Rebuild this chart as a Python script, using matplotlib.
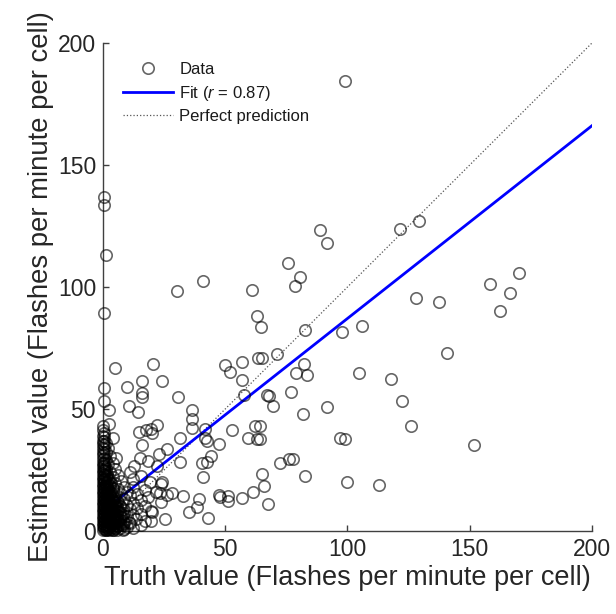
import numpy as np
import matplotlib
matplotlib.use("Agg")
import matplotlib.pyplot as plt

plt.rcParams['font.family'] = ['Liberation Sans', 'DejaVu Sans']
plt.rcParams['mathtext.fontset'] = 'custom'
plt.rcParams['mathtext.rm'] = 'Liberation Sans'
plt.rcParams['mathtext.it'] = 'Liberation Sans:italic'

# scattered cells (truth, estimate)
far_points = [
    (0.5, 136.7), (0.5, 133.6), (1.1, 113.3), (0.4, 89.4),
    (99.0, 184.3),
    (30.2, 98.3), (40.7, 102.4), (60.8, 98.8), (62.9, 88.2), (64.6, 83.6),
    (88.6, 123.5), (91.7, 117.9), (121.4, 123.8), (129.1, 126.9),
    (75.5, 109.9), (80.4, 103.9), (78.5, 100.2),
    (170.2, 105.9), (158.1, 101.3), (166.4, 97.5), (162.3, 90.1),
    (127.9, 95.4), (137.3, 93.7),
    (82.5, 82.5), (97.7, 81.5), (105.8, 84.0), (140.5, 72.8), (71.3, 72.5),
    (64.9, 70.8), (63.3, 70.8),
    (82.2, 68.3), (79.1, 64.6), (83.6, 63.9), (104.9, 64.6), (118.0, 62.2),
    (67.2, 55.6), (67.8, 55.4), (77.0, 57.0), (69.4, 51.1), (91.7, 50.7),
    (122.2, 53.2), (81.7, 47.9), (126.0, 43.2), (64.2, 43.1), (64.2, 37.6),
    (96.9, 38.2), (99.1, 37.5), (151.7, 35.3),
    (72.4, 27.9), (76.1, 29.3), (77.8, 29.4), (64.9, 23.3), (65.9, 18.5),
    (82.8, 22.5), (99.7, 19.9), (113.0, 18.8), (67.6, 11.0),
]

mid_points = [
    (4.9, 66.7), (20.6, 68.3), (50.0, 67.9), (56.8, 69.2), (52.0, 65.3),
    (0.5, 58.4), (0.5, 53.2), (10.0, 59.2), (16.1, 61.5), (24.0, 61.5),
    (16.1, 56.7), (16.1, 55.1), (30.6, 55.1),
    (56.8, 61.9), (57.7, 55.6), (10.7, 51.3), (14.3, 48.8), (2.6, 49.6),
    (36.4, 49.5), (36.4, 45.8), (36.4, 42.4),
    (22.2, 43.5), (19.5, 42.0), (17.5, 41.4), (14.8, 40.4), (20.2, 40.0),
    (31.4, 38.0), (15.9, 35.2), (26.0, 33.5),
    (42.5, 36.9), (47.3, 35.6), (41.9, 41.7), (41.9, 38.0), (52.7, 41.4),
    (62.2, 43.1), (59.5, 38.3), (63.1, 37.9),
    (44.3, 30.6), (40.5, 27.8), (42.5, 28.1), (31.7, 28.4), (22.9, 31.5),
    (18.4, 28.8), (15.2, 29.9), (40.9, 22.0),
    (61.5, 16.1), (51.3, 14.4), (56.8, 13.4), (47.3, 14.7), (48.0, 13.8),
    (39.1, 13.1), (38.5, 9.7), (35.1, 7.6), (42.8, 5.2),
    (32.8, 14.4), (28.3, 15.5), (26.0, 14.7), (23.6, 19.2), (23.3, 15.5),
    (25.2, 4.9), (19.5, 8.3), (20.2, 7.6), (19.5, 4.2), (17.1, 4.2),
    (18.4, 13.8), (19.2, 19.9), (12.7, 26.7), (11.1, 24.3), (12.1, 21.3),
    (15.4, 22.6), (23.6, 11.7),
    (2.6, 43.8), (3.9, 38.3), (5.3, 30.1), (22.2, 26.7), (24.3, 19.9),
    (21.8, 15.8), (51.3, 12.4), (10.7, 3.6), (13.4, 4.9),
]

# low flash-rate cells around the origin
near_origin = [
    (0.3, 40.2), (0.3, 38.5), (0.3, 37.0), (0.3, 35.1), (0.3, 33.4),
    (0.3, 31.8), (0.3, 30.0), (0.3, 28.3), (0.3, 26.5), (0.3, 24.9),
    (0.3, 23.0), (0.3, 21.2), (0.3, 19.6), (0.3, 17.8), (0.3, 16.0),
    (0.3, 14.1), (0.3, 12.5), (0.3, 10.8), (0.3, 9.0), (0.3, 7.4),
    (0.3, 5.6), (0.3, 3.9), (0.3, 2.2), (0.3, 0.8),
    (1.2, 36.2), (1.2, 32.5), (1.2, 29.1), (1.2, 25.7), (1.2, 22.4),
    (1.2, 19.0), (1.2, 15.3), (1.2, 12.0), (1.2, 8.6), (1.2, 5.1),
    (1.2, 1.7), (1.2, 0.3),
    (2.1, 34.0), (2.1, 27.3), (2.1, 20.8), (2.1, 17.2), (2.1, 13.6),
    (2.1, 10.2), (2.1, 6.9), (2.1, 3.5), (2.1, 0.9),
    (3.0, 30.6), (3.0, 24.1), (3.0, 18.5), (3.0, 14.9), (3.0, 11.1),
    (3.0, 7.8), (3.0, 4.4), (3.0, 1.5),
    (4.0, 27.9), (4.0, 22.0), (4.0, 16.4), (4.0, 12.9), (4.0, 9.5),
    (4.0, 6.0), (4.0, 2.8), (4.0, 0.5),
    (5.1, 25.2), (5.1, 19.8), (5.1, 14.2), (5.1, 10.6), (5.1, 7.1),
    (5.1, 3.6), (5.1, 1.2),
    (6.2, 22.8), (6.2, 17.1), (6.2, 12.0), (6.2, 8.3), (6.2, 4.7), (6.2, 1.9),
    (7.3, 20.5), (7.3, 15.0), (7.3, 9.9), (7.3, 5.9), (7.3, 2.6),
    (8.5, 18.2), (8.5, 13.1), (8.5, 7.5), (8.5, 3.1), (8.5, 0.7),
    (9.7, 16.0), (9.7, 10.8), (9.7, 6.2), (9.7, 1.8),
    (11.0, 14.6), (11.0, 8.9), (11.0, 3.3),
    (12.4, 17.9), (12.4, 11.4), (12.4, 6.5), (12.4, 1.4),
    (13.9, 9.6), (13.9, 15.3),
    (15.5, 12.6), (15.5, 7.0), (15.5, 2.4),
    (17.0, 10.1), (17.0, 16.8),
]

# the packed core: truth value of a column and the estimates in it
core_columns = [
    (0.0, [0.4, 1.9, 3.3, 4.8, 6.2, 7.7, 9.1, 10.6, 12.0, 13.5, 15.0, 16.4,
           17.9, 19.3, 20.8, 22.2, 23.7, 25.1, 26.6, 28.0, 29.5, 31.0, 32.4,
           34.1, 35.6, 36.9, 39.0, 41.3, 43.0]),
    (0.6, [1.1, 2.7, 4.1, 5.5, 7.0, 8.4, 9.9, 11.3, 12.8, 14.2, 15.7, 17.1,
           18.6, 20.0, 21.5, 23.0, 24.4, 26.0, 27.3]),
    (1.1, [0.2, 1.6, 3.0, 4.5, 5.9, 7.4, 8.8, 10.3, 11.7, 13.2, 14.6, 16.1,
           17.5, 19.1, 21.8, 24.5]),
    (1.7, [0.9, 2.4, 3.8, 5.2, 6.7, 8.1, 9.6, 11.0, 12.5, 13.9, 15.4, 16.8,
           18.3, 20.2, 23.1]),
    (2.4, [0.3, 1.7, 3.2, 4.6, 6.1, 7.5, 9.0, 10.4, 11.9, 13.3, 14.8, 16.3,
           18.9, 21.4]),
    (3.1, [1.0, 2.5, 3.9, 5.4, 6.8, 8.3, 9.7, 11.2, 12.6, 14.1, 16.0, 19.6]),
    (3.9, [0.4, 1.8, 3.3, 4.7, 6.2, 7.6, 9.1, 10.5, 12.2, 14.4, 17.5]),
    (4.8, [1.2, 2.6, 4.0, 5.5, 6.9, 8.4, 10.0, 11.8, 13.7]),
    (5.8, [0.5, 2.0, 3.4, 4.9, 6.5, 8.0, 9.8, 12.3]),
    (6.9, [1.3, 2.9, 4.4, 6.0, 7.9, 10.4]),
    (8.1, [0.6, 2.3, 4.1, 6.4, 8.9]),
]

fit_slope = 0.79
fit_intercept = 8.1
fit_r = 0.87
axis_range = [0, 200]
ticks = [0, 50, 100, 150, 200]

core = [(cx, cy) for cx, ys in core_columns for cy in ys]
pts = np.array(far_points + mid_points + near_origin + core)
truth = pts[:, 0]
estimate = pts[:, 1]

fig = plt.figure(figsize=(6.16, 6.14), dpi=100)
ax = fig.add_axes([0.1672, 0.1352, 0.7938, 0.7948])

# circles on the axes edges spill over the spines, so no clipping
ax.plot(truth, estimate, 'o', ms=8.2, mfc='none', mec=(0, 0, 0, 0.6), mew=1.2,
        label='Data', zorder=3, clip_on=False)
fx = np.array(axis_range, dtype=float)
ax.plot(fx, fit_slope * fx + fit_intercept, color=(0, 0, 1), lw=2.0,
        label='Fit ($\\mathit{r}$ = %.2f)' % fit_r, zorder=2.5)
ax.plot(axis_range, axis_range, ':', color='#555555', lw=0.9,
        label='Perfect prediction', zorder=2)

ax.set_xlim(axis_range)
ax.set_ylim(axis_range)
ax.set_xticks(ticks)
ax.set_yticks(ticks)
for s in ['top', 'right']:
    ax.spines[s].set_visible(False)
for s in ['left', 'bottom']:
    ax.spines[s].set_color('#404040')
    ax.spines[s].set_linewidth(1.0)
ax.tick_params(direction='in', length=4, width=1, colors='#404040',
               labelcolor='#262626', labelsize=16.5, pad=5)

ax.set_xlabel('Truth value (Flashes per minute per cell)', fontsize=19.5,
              color='#262626', labelpad=3)
ax.set_ylabel('Estimated value (Flashes per minute per cell)', fontsize=19.8,
              color='#262626', labelpad=3)

leg = ax.legend(loc='upper left', bbox_to_anchor=(0.028, 0.975), frameon=False,
                fontsize=12, handlelength=3.0, handletextpad=0.35,
                labelspacing=0.4, borderaxespad=0)
for t in leg.get_texts():
    t.set_color('#1a1a1a')

fig.savefig('out.png', dpi=100)
